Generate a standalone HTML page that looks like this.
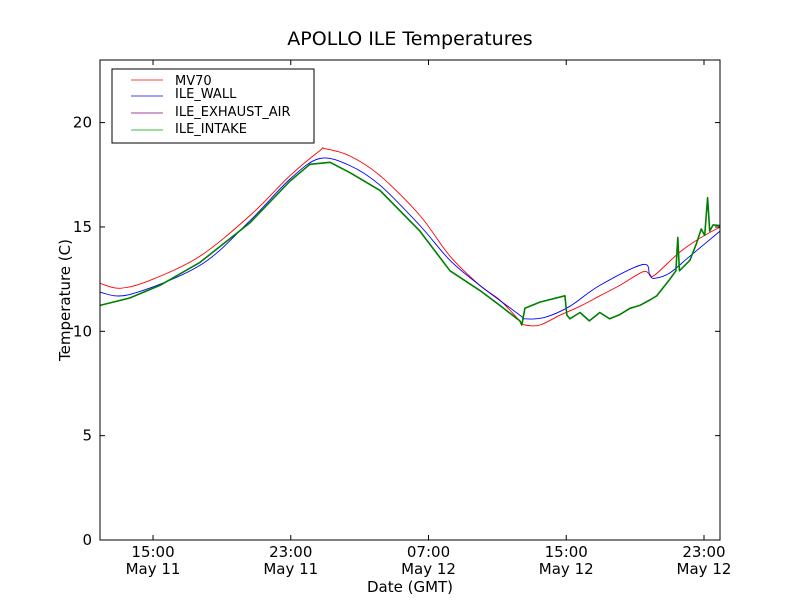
<!DOCTYPE html>
<html><head><meta charset="utf-8"><style>
body{margin:0;background:#fff;font-family:"Liberation Sans","DejaVu Sans",sans-serif;}
svg text{font-family:"DejaVu Sans","Liberation Sans",sans-serif;}
</style></head><body>
<svg id="chart" width="800" height="600" viewBox="0 0 800 600" xmlns="http://www.w3.org/2000/svg">
<rect x="0" y="0" width="800" height="600" fill="#fff"/>
<text x="410" y="45" text-anchor="middle" font-size="19">APOLLO ILE Temperatures</text>
<g id="plot"></g>
<rect x="100" y="60" width="620" height="480" fill="none" stroke="#000" stroke-width="1"/>
<g id="axes"></g>
<text x="410" y="592" text-anchor="middle" font-size="15">Date (GMT)</text>
<text transform="translate(70,300) rotate(-90)" text-anchor="middle" font-size="15">Temperature (C)</text>
<g>
<rect x="112" y="69" width="202" height="74" fill="#fff" stroke="#000" stroke-width="1"/>
<line x1="131" y1="80" x2="163" y2="80" stroke="#ff0000" stroke-width="0.8"/>
<text x="175" y="85" font-size="13">MV70</text>
<line x1="131" y1="96" x2="163" y2="96" stroke="#0000ff" stroke-width="0.8"/>
<text x="175" y="98" font-size="13">ILE_WALL</text>
<line x1="131" y1="113" x2="163" y2="113" stroke="#800080" stroke-width="0.8"/>
<text x="175" y="116" font-size="13">ILE_EXHAUST_AIR</text>
<line x1="131" y1="130" x2="163" y2="130" stroke="#00a000" stroke-width="0.8"/>
<text x="175" y="133" font-size="13">ILE_INTAKE</text>
</g>
</svg>
<script>
// times in hours since May 11 00:00 GMT
const redT=[11.92,13.08,14.82,17.72,20.63,22.96,24.69,24.99,26.44,28.18,30.50,32.25,33.98,35.14,36.31,36.60,37.47,38.63,39.80,40.95,42.11,43.45,43.85,44.15,45.60,46.74,47.93];
const redV=[12.3,12.06,12.44,13.6,15.55,17.46,18.66,18.75,18.4,17.46,15.55,13.6,12.2,11.5,10.5,10.3,10.3,10.77,11.2,11.7,12.2,12.85,12.72,12.7,13.8,14.45,15.0];
const blueT=[11.92,13.66,17.72,20.63,22.96,24.69,26.44,28.18,30.50,32.25,33.98,36.31,36.60,37.76,39.21,40.95,43.45,43.85,44.15,45.02,46.18,47.93];
const blueV=[11.87,11.77,13.16,15.3,17.3,18.28,17.94,17.0,15.07,13.4,12.2,10.77,10.6,10.67,11.2,12.2,13.2,12.68,12.54,12.8,13.6,14.8];
const greenT=[11.92,13.66,15.40,17.72,20.63,22.96,24.11,25.28,26.44,28.18,30.50,32.25,33.98,35.14,36.31,36.42,36.60,37.47,38.92,39.04,39.21,39.80,40.34,40.95,41.52,42.11,42.70,43.27,43.85,44.26,45.02,45.37,45.48,45.57,46.18,46.56,46.84,47.04,47.21,47.33,47.53,47.93];
const greenV=[11.24,11.6,12.2,13.3,15.2,17.2,18.0,18.1,17.6,16.75,14.8,12.9,11.96,11.24,10.5,10.3,11.1,11.4,11.7,10.77,10.6,10.9,10.5,10.9,10.6,10.8,11.1,11.24,11.5,11.7,12.5,12.9,14.5,12.9,13.4,14.2,14.9,14.6,16.4,14.8,15.1,15.07];
const xTicks=[15,23,31,39,47];
const xTickTop=["15:00","23:00","07:00","15:00","23:00"];
const xTickBottom=["May 11","May 11","May 12","May 12","May 12"];
const yTicks=[0,5,10,15,20];

const X0=100,X1=720,Y0=540,Y1=60,TMIN=11.92,TMAX=47.93,VMIN=0,VMAX=23;
const NS="http://www.w3.org/2000/svg";
function xs(t){return X0+(t-TMIN)/(TMAX-TMIN)*(X1-X0);}
function ys(v){return Y0-(v-VMIN)/(VMAX-VMIN)*(Y0-Y1);}
const plot=document.getElementById('plot');
const axes=document.getElementById('axes');
function smoothPath(pts){
  let d='M'+pts[0][0].toFixed(1)+','+pts[0][1].toFixed(1);
  for(let i=0;i<pts.length-1;i++){
    const p0=pts[Math.max(0,i-1)],p1=pts[i],p2=pts[i+1],p3=pts[Math.min(pts.length-1,i+2)];
    const c1x=p1[0]+(p2[0]-p0[0])/6,c1y=p1[1]+(p2[1]-p0[1])/6;
    const c2x=p2[0]-(p3[0]-p1[0])/6,c2y=p2[1]-(p3[1]-p1[1])/6;
    d+=' C'+c1x.toFixed(1)+','+c1y.toFixed(1)+' '+c2x.toFixed(1)+','+c2y.toFixed(1)+' '+p2[0].toFixed(1)+','+p2[1].toFixed(1);
  }
  return d;
}
function line(T,V,color,name,w,smooth){
  const pts=T.map((t,i)=>[xs(t),ys(V[i])]);
  let p;
  if(smooth){p=document.createElementNS(NS,'path');p.setAttribute('d',smoothPath(pts));}
  else{p=document.createElementNS(NS,'polyline');p.setAttribute('points',pts.map(q=>q[0].toFixed(1)+','+q[1].toFixed(1)).join(' '));}
  p.setAttribute('fill','none');p.setAttribute('stroke',color);p.setAttribute('stroke-width',w);
  p.setAttribute('stroke-linejoin','round');
  
  
  plot.appendChild(p);
}
line(redT,redV,'#ff0000','mv70-line',0.9,true);
line(blueT,blueV,'#0000ff','ile-wall-line',0.9,true);
line(greenT,greenV,'#008000','ile-intake-line',1.6,false);
function mk(tag,attrs){const e=document.createElementNS(NS,tag);for(const k in attrs)e.setAttribute(k,attrs[k]);return e;}
xTicks.forEach((t,i)=>{
  const x=xs(t);
  const g=mk('g',{});
  
  
  g.appendChild(mk('line',{x1:x,y1:540,x2:x,y2:535,stroke:'#000'}));
  g.appendChild(mk('line',{x1:x,y1:60,x2:x,y2:65,stroke:'#000'}));
  const a=mk('text',{x:x,y:557,'text-anchor':'middle','font-size':15});a.textContent=xTickTop[i];g.appendChild(a);
  const b=mk('text',{x:x,y:574,'text-anchor':'middle','font-size':15});b.textContent=xTickBottom[i];g.appendChild(b);
  axes.appendChild(g);
});
yTicks.forEach(v=>{
  const y=ys(v);
  const g=mk('g',{});
  
  
  g.appendChild(mk('line',{x1:100,y1:y,x2:105,y2:y,stroke:'#000'}));
  g.appendChild(mk('line',{x1:720,y1:y,x2:715,y2:y,stroke:'#000'}));
  const a=mk('text',{x:92,y:y+5,'text-anchor':'end','font-size':15});a.textContent=v;g.appendChild(a);
  axes.appendChild(g);
});
</script>
</body></html>
